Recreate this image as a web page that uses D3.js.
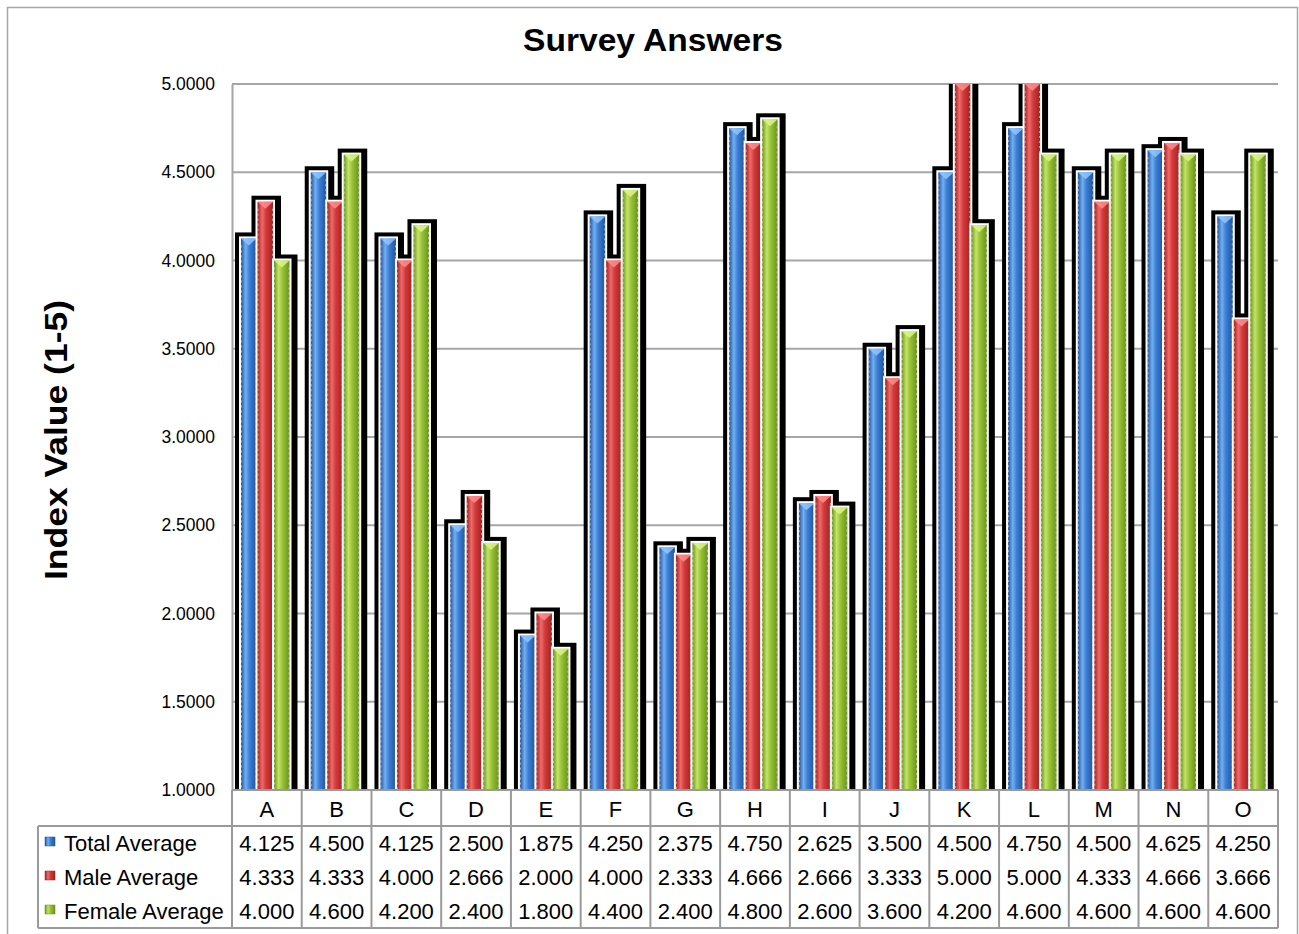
<!DOCTYPE html>
<html>
<head>
<meta charset="utf-8">
<script src="https://cdn.jsdelivr.net/npm/d3@7"></script>
<style>
  body { margin: 0; background: #fff; }
  text { font-family: "Liberation Sans", Arial, sans-serif; fill: #000; }
</style>
</head>
<body>
<script>

// get the data
var categories = ["A","B","C","D","E","F","G","H","I","J","K","L","M","N","O"];
var seriesNames = ["Total Average", "Male Average", "Female Average"];
var totalAvg  = [4.125, 4.500, 4.125, 2.500, 1.875, 4.250, 2.375, 4.750, 2.625, 3.500, 4.500, 4.750, 4.500, 4.625, 4.250];
var maleAvg   = [4.333, 4.333, 4.000, 2.666, 2.000, 4.000, 2.333, 4.666, 2.666, 3.333, 5.000, 5.000, 4.333, 4.666, 3.666];
var femaleAvg = [4.000, 4.600, 4.200, 2.400, 1.800, 4.400, 2.400, 4.800, 2.600, 3.600, 4.200, 4.600, 4.600, 4.600, 4.600];
var yTicks = [1.0, 1.5, 2.0, 2.5, 3.0, 3.5, 4.0, 4.5, 5.0];

var seriesValues = [totalAvg, maleAvg, femaleAvg];

// colors for the bars: dark edge, mid, light center
var palette = [
  {dark: "#24539c", mid: "#3b7fd4", light: "#72b0f2", cap: "#8ec6ff"},
  {dark: "#a32222", mid: "#d23a3a", light: "#f06a6a", cap: "#ff8c8c"},
  {dark: "#6a931c", mid: "#98c238", light: "#c4e466", cap: "#dcf58a"}
];

var width = 1299,
    height = 934,
    plotLeft = 232,
    plotRight = 1278,
    plotTop = 84,
    plotBottom = 790,
    rowH = 34;

var svg = d3.select("body").append("svg")
    .attr("width", width)
    .attr("height", height);

var defs = svg.append("defs");

palette.forEach(function(p, i) {
  var g = defs.append("linearGradient")
      .attr("id", "grad" + i)
      .attr("x1", "0%").attr("x2", "100%")
      .attr("y1", "0%").attr("y2", "0%");
  g.append("stop").attr("offset", "0%").attr("stop-color", p.dark);
  g.append("stop").attr("offset", "30%").attr("stop-color", p.light);
  g.append("stop").attr("offset", "55%").attr("stop-color", p.mid);
  g.append("stop").attr("offset", "100%").attr("stop-color", p.dark);
});

// bars don't go above the plot area
defs.append("clipPath")
    .attr("id", "plotClip")
    .append("rect")
    .attr("x", plotLeft - 10).attr("y", plotTop)
    .attr("width", plotRight - plotLeft + 20)
    .attr("height", plotBottom - plotTop);

// outer frame
svg.append("rect")
    .attr("x", 7.5).attr("y", 7.5)
    .attr("width", 1290).attr("height", 960)
    .attr("fill", "none")
    .attr("stroke", "#a6a6a6")
    .attr("stroke-width", 1.5);

// scales
var x = d3.scaleBand()
    .domain(categories)
    .range([plotLeft, plotRight])
    .padding(0);

var xSub = d3.scaleBand()
    .domain(d3.range(seriesNames.length))
    .range([9, 58.5])
    .padding(0);

var y = d3.scaleLinear()
    .domain([1, 5])
    .range([plotBottom, plotTop]);

// gridlines
svg.append("g")
    .selectAll("line")
    .data(yTicks.filter(function(d) { return d > 1; }))
    .enter().append("line")
    .attr("x1", plotLeft).attr("x2", plotRight)
    .attr("y1", function(d) { return y(d); })
    .attr("y2", function(d) { return y(d); })
    .attr("stroke", "#a6a6a6")
    .attr("stroke-width", 2);

// y axis
var yAxis = d3.axisLeft(y)
    .tickValues(yTicks)
    .tickSize(0)
    .tickPadding(17)
    .tickFormat(d3.format(".4f"));

var yG = svg.append("g")
    .attr("transform", "translate(" + plotLeft + ",0)")
    .call(yAxis);
yG.select(".domain").attr("stroke", "#a6a6a6").attr("stroke-width", 2);
yG.selectAll("text")
    .style("font-size", "17.5px")
    .style("font-family", "Liberation Sans, Arial, sans-serif")
    .attr("fill", "#000");

// flatten bars
var bars = [];
categories.forEach(function(c, ci) {
  seriesValues.forEach(function(vals, si) {
    bars.push({cat: c, s: si, value: vals[ci]});
  });
});

function barX(d) { return x(d.cat) + xSub(d.s); }
var bw = xSub.bandwidth() - 1;

var plotG = svg.append("g").attr("clip-path", "url(#plotClip)");

// black shadows first, all of them
plotG.append("g")
    .selectAll("rect")
    .data(bars)
    .enter().append("rect")
    .attr("x", function(d) { return barX(d) - 6; })
    .attr("y", function(d) { return y(d.value) - 6; })
    .attr("width", bw + 14)
    .attr("height", function(d) { return plotBottom - y(d.value) + 6; })
    .attr("fill", "#000");

var barG = plotG.append("g")
    .selectAll("g")
    .data(bars)
    .enter().append("g");

// white outline
barG.append("rect")
    .attr("x", function(d) { return barX(d) - 2; })
    .attr("y", function(d) { return y(d.value) - 2; })
    .attr("width", bw + 4)
    .attr("height", function(d) { return plotBottom - y(d.value) + 2; })
    .attr("fill", "#fff");

// the bar itself
barG.append("rect")
    .attr("x", function(d) { return barX(d); })
    .attr("y", function(d) { return y(d.value); })
    .attr("width", bw)
    .attr("height", function(d) { return plotBottom - y(d.value); })
    .attr("fill", function(d) { return "url(#grad" + d.s + ")"; });

// bevel on top of the bar
barG.append("path")
    .attr("d", function(d) {
      var x0 = barX(d), y0 = y(d.value);
      return "M" + x0 + "," + y0 + "L" + (x0 + bw) + "," + y0 +
             "L" + (x0 + bw / 2) + "," + (y0 + 7) + "Z";
    })
    .attr("fill", function(d) { return palette[d.s].cap; })
    .attr("opacity", 0.85);

// dashed edges
barG.append("line")
    .attr("x1", function(d) { return barX(d) + 0.5; })
    .attr("x2", function(d) { return barX(d) + 0.5; })
    .attr("y1", function(d) { return y(d.value) + 7; })
    .attr("y2", plotBottom)
    .attr("stroke", "#fff").attr("stroke-opacity", 0.5)
    .attr("stroke-dasharray", "2,3");
barG.append("line")
    .attr("x1", function(d) { return barX(d) + bw - 0.5; })
    .attr("x2", function(d) { return barX(d) + bw - 0.5; })
    .attr("y1", function(d) { return y(d.value) + 7; })
    .attr("y2", plotBottom)
    .attr("stroke", "#fff").attr("stroke-opacity", 0.5)
    .attr("stroke-dasharray", "2,3");

// data table below
var table = svg.append("g");
var tableTop = plotBottom,
    headBottom = plotBottom + 36,
    tableBottom = headBottom + rowH * 3,
    legendLeft = 38;

table.append("rect")
    .attr("x", plotLeft).attr("y", tableTop)
    .attr("width", plotRight - plotLeft).attr("height", tableBottom - tableTop)
    .attr("fill", "#fff");

var lineColor = "#9a9a9a";

// vertical cell lines
table.selectAll("line.v")
    .data(categories.map(function(c) { return x(c); }).concat([plotRight]))
    .enter().append("line")
    .attr("class", "v")
    .attr("x1", function(d) { return d; }).attr("x2", function(d) { return d; })
    .attr("y1", tableTop).attr("y2", tableBottom)
    .attr("stroke", lineColor).attr("stroke-width", 2);

table.append("line")
    .attr("x1", plotLeft).attr("x2", plotRight)
    .attr("y1", tableTop).attr("y2", tableTop)
    .attr("stroke", lineColor).attr("stroke-width", 2);
table.append("line")
    .attr("x1", legendLeft).attr("x2", plotRight)
    .attr("y1", headBottom).attr("y2", headBottom)
    .attr("stroke", lineColor).attr("stroke-width", 2);
table.append("line")
    .attr("x1", legendLeft).attr("x2", plotRight)
    .attr("y1", tableBottom).attr("y2", tableBottom)
    .attr("stroke", lineColor).attr("stroke-width", 2);
table.append("line")
    .attr("x1", legendLeft).attr("x2", legendLeft)
    .attr("y1", headBottom).attr("y2", tableBottom)
    .attr("stroke", lineColor).attr("stroke-width", 2);

// category labels
table.selectAll("text.cat")
    .data(categories)
    .enter().append("text")
    .attr("class", "cat")
    .attr("x", function(d) { return x(d) + x.bandwidth() / 2; })
    .attr("y", tableTop + 27)
    .attr("text-anchor", "middle")
    .style("font-size", "22px")
    .text(function(d) { return d; });

// rows
seriesNames.forEach(function(name, si) {
  var rowY = headBottom + rowH * si + rowH / 2 + 8;

  table.append("rect")
      .attr("x", 45).attr("y", rowY - 14)
      .attr("width", 10).attr("height", 9)
      .attr("fill", "url(#grad" + si + ")")
      .attr("stroke", palette[si].dark).attr("stroke-width", 0.5);

  table.append("text")
      .attr("x", 64).attr("y", rowY)
      .style("font-size", "22px")
      .text(name);

  table.selectAll("text.val" + si)
      .data(seriesValues[si])
      .enter().append("text")
      .attr("class", "val" + si)
      .attr("x", function(d, i) { return x(categories[i]) + x.bandwidth() / 2; })
      .attr("y", rowY)
      .attr("text-anchor", "middle")
      .style("font-size", "22px")
      .text(function(d) { return d.toFixed(3); });
});

// Title
svg.append("text")
    .attr("x", 653)
    .attr("y", 51)
    .attr("text-anchor", "middle")
    .attr("textLength", 260)
    .attr("lengthAdjust", "spacingAndGlyphs")
    .style("font-size", "31px")
    .style("font-weight", "bold")
    .text("Survey Answers");

// y axis title
svg.append("text")
    .attr("transform", "translate(67,440) rotate(-90)")
    .attr("text-anchor", "middle")
    .attr("textLength", 280)
    .attr("lengthAdjust", "spacingAndGlyphs")
    .style("font-size", "31px")
    .style("font-weight", "bold")
    .text("Index Value (1-5)");

</script>
</body>
</html>
